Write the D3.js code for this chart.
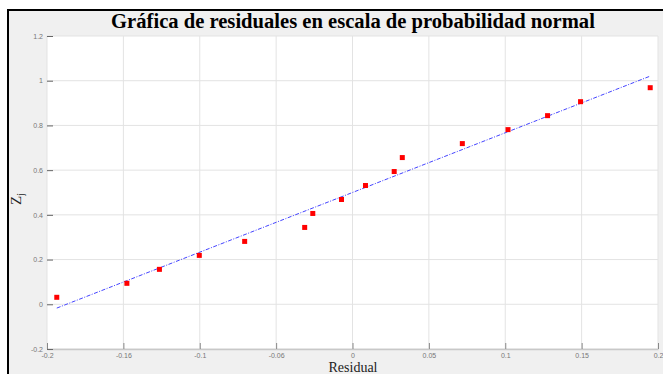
<!DOCTYPE html>
<html>
<head>
<meta charset="utf-8">
<script src="https://cdn.jsdelivr.net/npm/d3@7"></script>
<style>
  html, body { margin: 0; padding: 0; background: #ffffff; }
  svg { display: block; }
</style>
</head>
<body>
<svg id="chart" width="663" height="374"></svg>
<script>
// ---- data ----
const residuals = [-0.1936, -0.1477, -0.1264, -0.1003, -0.0706, -0.0313, -0.0260, -0.0072,
                   0.0085, 0.0273, 0.0326, 0.0719, 0.1018, 0.1277, 0.1493, 0.1949];
const zj = [0.03125, 0.09375, 0.15625, 0.21875, 0.28125, 0.34375, 0.40625, 0.46875,
            0.53125, 0.59375, 0.65625, 0.71875, 0.78125, 0.84375, 0.90625, 0.96875];
const fitX = [-0.1936, 0.1943];
const fitY = [-0.017, 1.019];
const xTicks = [-0.2, -0.15, -0.1, -0.05, 0, 0.05, 0.1, 0.15, 0.2];
const xTickLabels = ["-0.2", "-0.16", "-0.1", "-0.06", "0", "0.05", "0.1", "0.15", "0.2"];
const yTicks = [-0.2, 0, 0.2, 0.4, 0.6, 0.8, 1, 1.2];
const yTickLabels = ["-0.2", "0", "0.2", "0.4", "0.6", "0.8", "1", "1.2"];
const titleText = "Gráfica de residuales en escala de probabilidad normal";
const xLabel = "Residual";

// ---- layout ----
const svg = d3.select("#chart");
const L = 47, R = 658, T = 36, B = 349;

// frame background + border
svg.append("rect").attr("x", 8).attr("y", 10).attr("width", 670).attr("height", 380)
  .attr("fill", "#f0f0f0").attr("stroke", "#000").attr("stroke-width", 2);

const x = d3.scaleLinear().domain([-0.2, 0.2]).range([L, R]);
const y = d3.scaleLinear().domain([-0.2, 1.2]).range([B, T]);

// plot area
svg.append("rect").attr("x", L).attr("y", T).attr("width", R - L).attr("height", B - T)
  .attr("fill", "#ffffff");

// grid
const g = svg.append("g");
g.selectAll(".vg").data(xTicks).enter().append("line")
  .attr("x1", d => x(d)).attr("x2", d => x(d)).attr("y1", T).attr("y2", B)
  .attr("stroke", "#e3e3e3").attr("stroke-width", 1);
g.selectAll(".hg").data(yTicks).enter().append("line")
  .attr("x1", L).attr("x2", R).attr("y1", d => y(d)).attr("y2", d => y(d))
  .attr("stroke", "#e3e3e3").attr("stroke-width", 1);

// axes
const xAxis = d3.axisBottom(x).tickValues(xTicks)
  .tickFormat((d, i) => xTickLabels[i]).tickSizeInner(-6).tickSizeOuter(0).tickPadding(4);
const xa = svg.append("g").attr("transform", `translate(0,${B})`).call(xAxis);
xa.select(".domain").attr("stroke", "#c8c8c8").attr("stroke-width", 1.5);
xa.selectAll(".tick line").attr("stroke", "#888");
xa.selectAll(".tick text").attr("fill", "#777").style("font-family", "Liberation Sans, Arial, sans-serif")
  .style("font-size", "7px");

const yAxis = d3.axisLeft(y).tickValues(yTicks)
  .tickFormat((d, i) => yTickLabels[i]).tickSizeInner(-6).tickSizeOuter(0).tickPadding(4);
const ya = svg.append("g").attr("transform", `translate(${L},0)`).call(yAxis);
ya.select(".domain").attr("stroke", "none");
ya.selectAll(".tick line").attr("stroke", "#666");
ya.selectAll(".tick text").attr("fill", "#777").style("font-family", "Liberation Sans, Arial, sans-serif")
  .style("font-size", "7px");

// fitted line
const lineData = fitX.map((d, i) => [d, fitY[i]]);
svg.append("path").datum(lineData)
  .attr("d", d3.line().x(d => x(d[0])).y(d => y(d[1])))
  .attr("fill", "none").attr("stroke", "#4444ff").attr("stroke-width", 1)
  .attr("stroke-dasharray", "4,1.5,1,1.5");

// points
svg.selectAll(".pt").data(residuals).enter().append("rect")
  .attr("x", d => x(d) - 2.5).attr("y", (d, i) => y(zj[i]) - 2.5)
  .attr("width", 5).attr("height", 5).attr("fill", "#ff0000");

// title
svg.append("text").attr("x", 353).attr("y", 28).attr("text-anchor", "middle")
  .style("font-family", "Liberation Serif, Times New Roman, serif")
  .style("font-weight", "bold").style("font-size", "20.6px").attr("fill", "#000")
  .text(titleText);

// x label
svg.append("text").attr("x", 353).attr("y", 372).attr("text-anchor", "middle")
  .style("font-family", "Liberation Serif, Times New Roman, serif")
  .style("font-size", "14px").attr("fill", "#222").text(xLabel);

// y label Z_j
const yl = svg.append("text").attr("transform", "translate(21,199) rotate(-90)")
  .attr("text-anchor", "middle")
  .style("font-family", "Liberation Serif, Times New Roman, serif")
  .style("font-size", "15px").attr("fill", "#222");
yl.append("tspan").text("Z");
yl.append("tspan").attr("dy", 3).style("font-size", "10px").text("j");
</script>
</body>
</html>
